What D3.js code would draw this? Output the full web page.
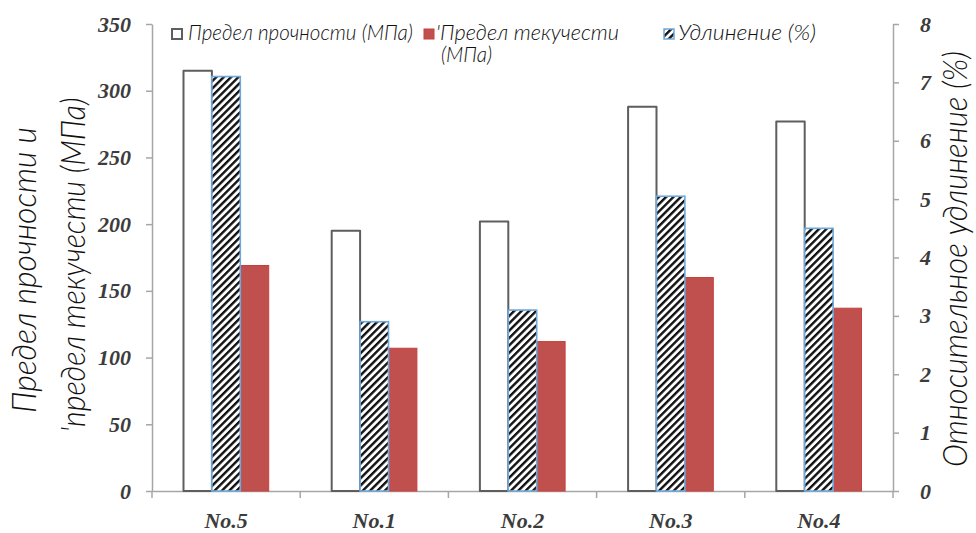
<!DOCTYPE html>
<html>
<head>
<meta charset="utf-8">
<script src="https://cdn.jsdelivr.net/npm/d3@7/dist/d3.min.js"></script>
<style>
  html, body { margin: 0; padding: 0; background: #fff; }
  svg { display: block; }
</style>
</head>
<body>
<svg id="chart" width="976" height="533"></svg>
<script>
// Samples and measured properties
const categories = ["No.5", "No.1", "No.2", "No.3", "No.4"];
const tensileStrength = [315, 195, 202, 288, 277];   // МПа, left axis
const yieldStrength = [169, 107, 112, 160, 137];     // МПа, left axis
const elongation = [7.1, 2.9, 3.1, 5.05, 4.5];       // %, right axis
const leftTicks = [0, 50, 100, 150, 200, 250, 300, 350];
const rightTicks = [0, 1, 2, 3, 4, 5, 6, 7, 8];

const seriesNames = ["Предел прочности (МПа)", ["'Предел текучести", "(МПа)"], "Удлинение (%)"];
const leftTitle = ["Предел прочности и", "'предел текучести (МПа)"];
const rightTitle = "Относительное удлинение (%)";

const W = 976, H = 533;
const plot = { left: 152, right: 893, top: 24, bottom: 491 };

const svg = d3.select("#chart");

const titleFont = "Lato, Roboto, 'Open Sans', sans-serif";
const tickFont = "'Liberation Serif', 'DejaVu Serif', serif";
const axisGray = "#a6a6a6";
const tickColor = "#3c3c3c";
const red = "#c0504d";
const blue = "#6fa9dc";

// Diagonal hatch for the elongation series
const defs = svg.append("defs");
defs.append("pattern")
  .attr("id", "hatch")
  .attr("patternUnits", "userSpaceOnUse")
  .attr("width", 5.2).attr("height", 5.2)
  .attr("patternTransform", "rotate(45)")
  .call(p => {
    p.append("rect").attr("width", 5.2).attr("height", 5.2).attr("fill", "#fff");
    p.append("rect").attr("width", 2.4).attr("height", 5.2).attr("fill", "#111");
  });

// Scales
const x = d3.scaleBand().domain(categories).range([plot.left, plot.right]);
const groupFrac = 0.575;
const inner = d3.scaleBand()
  .domain(["tensile", "elong", "yield"])
  .range([x.bandwidth() * (1 - groupFrac) / 2, x.bandwidth() * (1 + groupFrac) / 2]);
const yL = d3.scaleLinear().domain([0, 350]).range([plot.bottom, plot.top]);
const yR = d3.scaleLinear().domain([0, 8]).range([plot.bottom, plot.top]);

// Left axis
const gL = svg.append("g")
  .attr("transform", `translate(${plot.left},0)`)
  .call(d3.axisLeft(yL).tickValues(leftTicks).tickSize(6).tickSizeOuter(0).tickPadding(15));
// Right axis
const gR = svg.append("g")
  .attr("transform", `translate(${plot.right},0)`)
  .call(d3.axisRight(yR).tickValues(rightTicks).tickSize(6).tickSizeOuter(0).tickPadding(21));

[gL, gR].forEach(g => {
  g.select(".domain").attr("stroke", axisGray).attr("stroke-width", 1.5);
  g.selectAll(".tick line").attr("stroke", axisGray).attr("stroke-width", 1.5);
  g.selectAll(".tick text")
    .attr("fill", tickColor)
    .style("font-family", tickFont)
    .style("font-size", "22px")
    .style("font-weight", "bold")
    .style("font-style", "italic");
});

// Category axis: line along zero, ticks at band edges, labels centred
const gX = svg.append("g")
  .attr("transform", `translate(0,${plot.bottom})`)
  .call(d3.axisBottom(x).tickSize(0).tickSizeOuter(0).tickPadding(21));
gX.select(".domain").attr("stroke", axisGray).attr("stroke-width", 1.5);
gX.selectAll(".tick text")
  .attr("fill", tickColor)
  .style("font-family", tickFont)
  .style("font-size", "22px")
  .style("font-weight", "bold")
  .style("font-style", "italic");
const edges = categories.map(c => x(c)).concat([x.range()[1]]);
gX.selectAll("line.edge").data(edges).join("line")
  .attr("class", "edge")
  .attr("x1", d => d).attr("x2", d => d)
  .attr("y1", 0).attr("y2", 7)
  .attr("stroke", axisGray).attr("stroke-width", 1.5);

// Bars
const groups = svg.append("g").selectAll("g.grp")
  .data(categories)
  .join("g")
  .attr("class", "grp")
  .attr("transform", d => `translate(${x(d)},0)`);

groups.append("rect")
  .attr("x", inner("tensile"))
  .attr("width", inner.bandwidth())
  .attr("y", (d, i) => yL(tensileStrength[i]))
  .attr("height", (d, i) => yL(0) - yL(tensileStrength[i]))
  .attr("fill", "#fff")
  .attr("stroke", "#5e5e5e")
  .attr("stroke-width", 2)
  .attr("stroke-linejoin", "round");

groups.append("rect")
  .attr("x", inner("yield"))
  .attr("width", inner.bandwidth())
  .attr("y", (d, i) => yL(yieldStrength[i]))
  .attr("height", (d, i) => yL(0) - yL(yieldStrength[i]))
  .attr("fill", red)
  .attr("stroke", "#c8403d")
  .attr("stroke-width", 1);

groups.append("rect")
  .attr("x", inner("elong"))
  .attr("width", inner.bandwidth())
  .attr("y", (d, i) => yR(elongation[i]))
  .attr("height", (d, i) => yR(0) - yR(elongation[i]))
  .attr("fill", "url(#hatch)")
  .attr("stroke", blue)
  .attr("stroke-width", 1.6);

// Axis titles
function titleText(g, str, len, size) {
  return g.append("text")
    .text(str)
    .attr("text-anchor", "middle")
    .attr("textLength", len)
    .attr("lengthAdjust", "spacingAndGlyphs")
    .attr("fill", "#111")
    .style("font-family", titleFont)
    .style("font-weight", 300)
    .style("font-style", "italic")
    .style("font-size", size + "px");
}
const lt = svg.append("g");
titleText(lt, leftTitle[0], 286, 33)
  .attr("transform", "translate(36,270) rotate(-90)");
titleText(lt, leftTitle[1], 335, 33)
  .attr("transform", "translate(85,265) rotate(-90)");
titleText(svg, rightTitle, 416, 33)
  .attr("transform", "translate(967,259) rotate(-90)");

// Legend
const lg = svg.append("g")
  .style("font-family", titleFont)
  .style("font-weight", 300)
  .style("font-style", "italic")
  .style("font-size", "21px");
function legendText(lines, x0, y0, lens, indents) {
  const t = lg.append("text").attr("fill", "#111");
  lines.forEach((s, k) => {
    t.append("tspan")
      .text(s)
      .attr("x", x0 + (indents ? indents[k] : 0))
      .attr("y", y0 + k * 22)
      .attr("textLength", lens[k])
      .attr("lengthAdjust", "spacingAndGlyphs");
  });
  return t;
}
lg.append("rect").attr("x", 172).attr("y", 29).attr("width", 10).attr("height", 10)
  .attr("fill", "#fff").attr("stroke", "#5e5e5e").attr("stroke-width", 2);
legendText([seriesNames[0]], 188, 40, [225]);

lg.append("rect").attr("x", 424).attr("y", 29).attr("width", 10).attr("height", 10)
  .attr("fill", red).attr("stroke", "#c8403d").attr("stroke-width", 1);
legendText(seriesNames[1], 436, 40, [183, 51], [0, 5]);

lg.append("rect").attr("x", 664).attr("y", 29).attr("width", 10).attr("height", 10)
  .attr("fill", "url(#hatch)").attr("stroke", blue).attr("stroke-width", 1.5);
legendText([seriesNames[2]], 678, 40, [138]);
</script>
</body>
</html>
